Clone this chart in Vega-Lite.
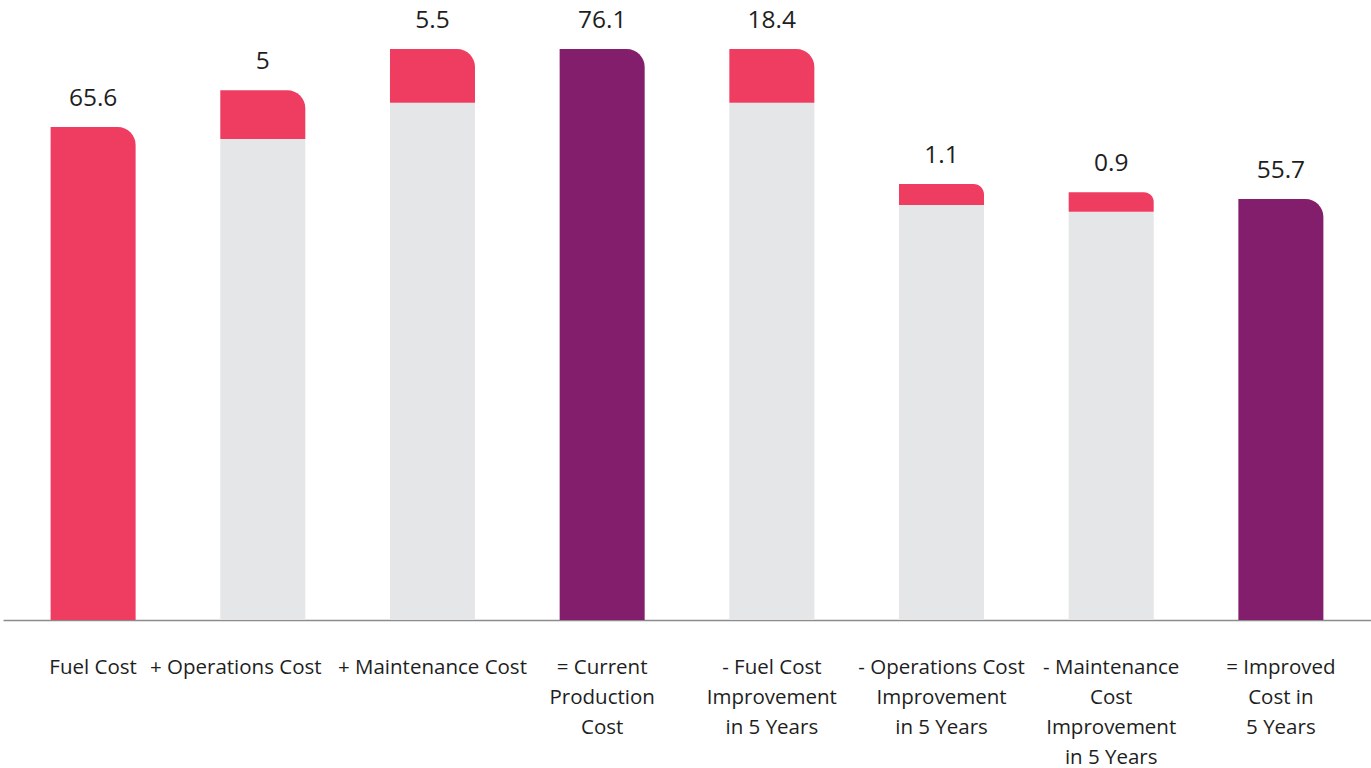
{
  "$schema": "https://vega.github.io/schema/vega-lite/v6.json",
  "autosize": "none",
  "width": 1368,
  "height": 620,
  "padding": {"left": 3, "right": 0, "top": 0, "bottom": 148},
  "background": "white",
  "config": {"view": {"stroke": null}},
  "data": {
    "values": [
      {"cat": "Fuel Cost", "seg": "step", "y0": 0, "y1": 65.7, "label": "65.6"},
      {"cat": "+ Operations Cost", "seg": "base", "y0": 0, "y1": 64.1},
      {"cat": "+ Operations Cost", "seg": "step", "y0": 64.1, "y1": 70.6, "label": "5"},
      {"cat": "+  Maintenance Cost", "seg": "base", "y0": 0, "y1": 68.95},
      {"cat": "+  Maintenance Cost", "seg": "step", "y0": 68.95, "y1": 76.1, "label": "5.5"},
      {"cat": "= Current|Production|Cost", "seg": "total", "y0": 0, "y1": 76.1, "label": "76.1"},
      {"cat": "- Fuel Cost|Improvement|in 5 Years", "seg": "base", "y0": 0, "y1": 68.95},
      {"cat": "- Fuel Cost|Improvement|in 5 Years", "seg": "step", "y0": 68.95, "y1": 76.1, "label": "18.4"},
      {"cat": "- Operations Cost|Improvement|in 5 Years", "seg": "base", "y0": 0, "y1": 55.3},
      {"cat": "- Operations Cost|Improvement|in 5 Years", "seg": "step", "y0": 55.3, "y1": 58.1, "label": "1.1"},
      {"cat": "- Maintenance|Cost|Improvement|in 5 Years", "seg": "base", "y0": 0, "y1": 54.4},
      {"cat": "- Maintenance|Cost|Improvement|in 5 Years", "seg": "step", "y0": 54.4, "y1": 57.0, "label": "0.9"},
      {"cat": "= Improved|Cost in|5 Years", "seg": "total", "y0": 0, "y1": 56.1, "label": "55.7"}
    ]
  },
  "encoding": {
    "x": {
      "field": "cat",
      "type": "nominal",
      "sort": ["Fuel Cost", "+ Operations Cost", "+  Maintenance Cost", "= Current|Production|Cost", "- Fuel Cost|Improvement|in 5 Years", "- Operations Cost|Improvement|in 5 Years", "- Maintenance|Cost|Improvement|in 5 Years", "= Improved|Cost in|5 Years"],
      "scale": {"paddingInner": 0.499, "paddingOuter": 0.2806},
      "axis": {
        "title": null,
        "labelAngle": 0,
        "ticks": false,
        "domainColor": "#8c8c8c",
        "domainWidth": 1.5,
        "labelFont": "Open Sans",
        "labelFontSize": 20.5,
        "labelColor": "#1e1e1e",
        "labelPadding": 37,
        "labelLineHeight": 30,
        "labelBaseline": "top",
        "labelLimit": 300,
        "labelOverlap": false,
        "labelExpr": "split(datum.label, '|')",
        "labelOffset": {"condition": {"test": "datum.value === '+ Operations Cost'", "value": -27}, "value": 0}
      }
    },
    "y": {
      "field": "y1",
      "type": "quantitative",
      "scale": {"domain": [0, 82.63], "nice": false, "zero": true},
      "axis": null
    }
  },
  "layer": [
    {
      "transform": [{"filter": "datum.seg === 'base'"}],
      "mark": {"type": "bar", "color": "#E5E6E8"},
      "encoding": {"y2": {"field": "y0"}}
    },
    {
      "transform": [{"filter": "datum.seg !== 'base'"}],
      "mark": {"type": "bar", "cornerRadiusTopRight": 18},
      "encoding": {
        "y2": {"field": "y0"},
        "color": {
          "field": "seg",
          "type": "nominal",
          "scale": {"domain": ["step", "total"], "range": ["#EF3C61", "#821E6B"]},
          "legend": null
        }
      }
    },
    {
      "transform": [{"filter": "datum.seg !== 'base'"}],
      "mark": {"type": "text", "font": "Open Sans", "fontSize": 24.5, "color": "#1e1e1e", "baseline": "alphabetic", "dy": -21},
      "encoding": {"text": {"field": "label"}}
    }
  ]
}
